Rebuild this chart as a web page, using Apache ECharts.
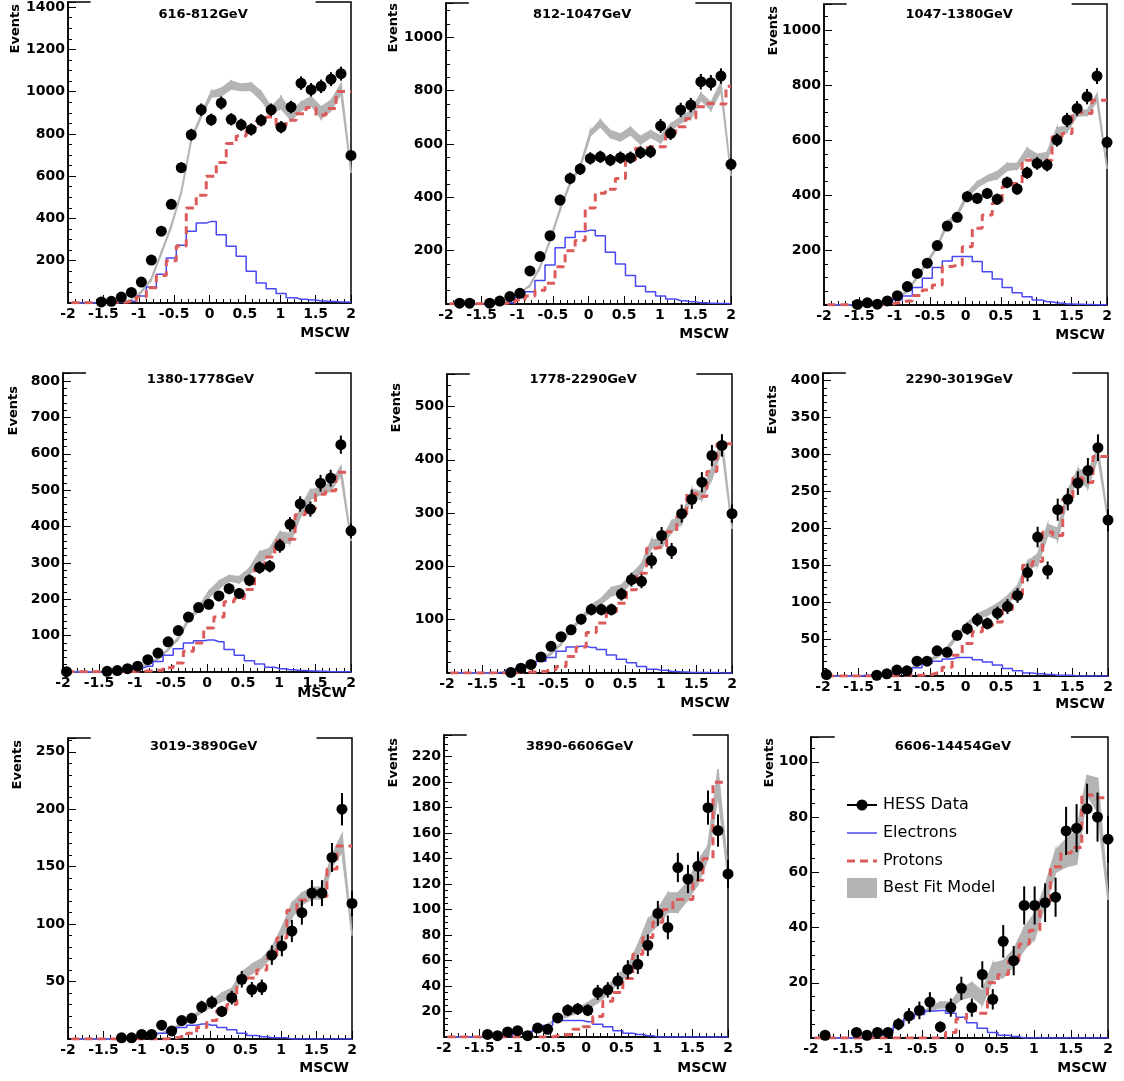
<!DOCTYPE html>
<html><head><meta charset="utf-8">
<script src="https://cdn.jsdelivr.net/npm/echarts@6/dist/echarts.min.js"></script>
<style>html,body{margin:0;padding:0;background:#fff}#c{width:1124px;height:1081px}</style>
</head><body><div id="c"></div>
<script>
// MSCW bin positions
const xs = [-1.951,-1.810,-1.669,-1.528,-1.387,-1.246,-1.104,-0.963,-0.822,-0.681,-0.540,-0.399,-0.258,-0.117,0.025,0.166,0.307,0.448,0.589,0.730,0.871,1.012,1.153,1.294,1.436,1.577,1.718,1.859,2.0];
const titles = ['616-812GeV','812-1047GeV','1047-1380GeV','1380-1778GeV','1778-2290GeV','2290-3019GeV','3019-3890GeV','3890-6606GeV','6606-14454GeV'];
const yMax   = [1424,1129,1095,822,561,410,262,237,109];
const yStep  = [200,200,200,100,100,50,50,20,20];
const yMinor = [4,4,4,5,5,5,5,4,4];
const legendNames = ['HESS Data','Electrons','Protons','Best Fit Model'];

// Panel 1
const data1 = [null,null,null,5,8,28,50,99,203,340,467,640,796,914,867,946,869,843,821,864,914,832,927,1040,1009,1025,1059,1085,698];
const err1  = [0,0,0,2,3,5,7,10,14,18,22,25,28,30,29,31,29,29,29,29,30,29,30,32,32,32,33,33,26];
const ele1  = [1,1,1,2,3,5,8,33,76,136,213,273,339,378,386,323,268,221,150,95,68,45,25,18,14,10,7,5,3];
const pro1  = [1,1,1,1,2,3,8,28,72,130,200,270,450,510,600,665,755,790,830,860,880,840,865,895,925,890,920,1000,1000];
const lo1   = [2,2,2,3,5,8,16,50,110,233,360,518,765,880,975,980,1013,1005,1005,960,895,920,865,910,935,872,911,990,615];
const hi1   = [2,2,2,3,5,8,16,55,117,241,368,528,778,893,1000,1015,1050,1035,1040,1000,927,975,903,950,975,927,958,1037,625];
// Panel 2
const data2 = [null,3,3,null,3,11,28,40,124,178,256,390,471,506,546,552,540,549,549,568,571,668,640,728,746,834,830,855,524];
const err2  = [0,2,2,0,2,3,5,6,11,13,16,20,22,22,23,23,23,23,23,24,24,26,25,27,27,29,29,29,23];
const ele2  = [0,0,0,1,1,2,5,24,46,88,146,211,249,272,277,256,194,150,107,67,46,30,19,12,8,5,3,2,1];
const pro2  = [1,1,1,1,1,2,5,15,30,52,78,140,200,238,360,415,430,471,540,584,590,590,640,665,696,740,752,750,817];
const lo2   = [1,1,1,2,2,4,10,40,68,135,235,350,450,510,630,665,625,612,635,600,625,605,650,680,695,765,728,800,480];
const hi2   = [1,1,1,2,2,4,10,42,72,140,242,358,458,518,648,690,650,637,662,628,650,630,675,700,725,790,755,830,485];
// Panel 3
const data3 = [null,null,null,2,8,3,15,34,67,115,152,216,287,319,394,388,406,385,446,422,481,515,509,600,673,715,758,833,592];
const err3  = [0,0,0,1,3,2,4,6,8,11,12,15,17,18,20,20,20,20,21,21,22,23,23,24,26,27,28,29,24];
const ele3  = [0,0,0,1,1,3,8,18,33,64,97,136,160,176,176,158,121,95,64,45,30,18,12,7,4,3,2,1,1];
const pro3  = [1,1,1,1,1,1,3,8,15,35,55,73,140,145,212,279,327,370,430,442,527,515,527,612,624,700,697,745,745];
const lo3   = [1,1,1,2,2,4,11,26,48,99,152,209,290,322,392,428,450,460,490,495,540,525,530,618,630,688,690,742,495];
const hi3   = [1,1,1,2,2,4,11,28,52,105,160,217,302,334,408,448,470,485,515,515,570,548,555,645,650,712,708,768,500];
// Panel 4
const data4 = [1,null,null,null,2,4,9,16,34,52,83,114,151,177,186,209,229,216,252,287,291,347,406,462,448,519,533,625,388];
const err4  = [1,0,0,0,1,2,3,4,6,7,9,11,12,13,14,14,15,15,16,17,17,19,20,21,21,23,23,25,20];
const ele4  = [0,0,0,0,1,2,6,11,16,29,46,64,80,86,88,83,62,46,31,22,13,9,6,4,3,2,1,1,1];
const pro4  = [1,1,1,1,1,1,1,2,3,5,12,25,57,80,121,151,193,202,227,285,316,360,365,432,448,489,498,549,549];
const lo4   = [1,1,1,1,2,3,7,13,20,35,60,90,140,168,205,230,250,245,268,300,320,355,355,425,475,488,498,540,360];
const hi4   = [1,1,1,1,2,3,7,14,22,38,64,95,148,178,222,250,265,262,285,330,340,385,380,450,500,507,520,565,365];
// Panel 5
const data5 = [null,null,null,null,null,null,1,9,16,30,50,68,81,101,119,119,119,148,175,172,211,258,229,299,326,358,408,427,299];
const err5  = [0,0,0,0,0,0,1,3,4,5,7,8,9,10,11,11,11,12,13,13,15,16,15,17,18,19,20,21,17];
const ele5  = [0,0,0,0,0,1,5,10,14,22,29,41,49,50,48,44,34,26,19,12,7,5,3,2,1,1,1,0,0];
const pro5  = [0,0,0,0,0,0,0,1,2,3,6,12,31,49,76,94,115,131,156,187,234,237,265,293,337,331,378,430,430];
const lo5   = [0,0,0,0,0,1,5,11,16,25,35,53,80,99,118,130,145,150,170,190,235,235,265,280,330,325,365,420,270];
const hi5   = [0,0,0,0,0,1,5,12,17,27,38,56,84,104,128,140,160,165,185,205,250,250,285,295,345,340,385,440,275];
// Panel 6
const data6 = [2,null,null,null,null,1,3,8,7,20,20,34,32,55,64,76,71,85,94,109,140,188,143,225,239,261,278,309,211];
const err6  = [1,0,0,0,0,1,2,3,3,4,4,6,6,7,8,9,8,9,10,10,12,14,12,15,15,16,17,18,15];
const ele6  = [0,0,0,0,1,1,2,4,7,11,17,20,23,25,25,22,19,15,10,7,4,3,2,1,1,0,0,0,0];
const pro6  = [0,0,0,0,0,0,0,0,1,1,2,4,12,28,44,60,68,73,90,110,150,155,195,190,240,268,262,297,297];
const lo6   = [0,0,0,0,1,1,2,5,8,13,19,25,35,52,68,78,82,90,98,112,145,150,190,185,240,265,255,295,210];
const hi6   = [0,0,0,0,1,1,2,5,9,14,21,28,39,57,72,84,90,98,108,122,155,165,205,200,250,280,275,310,212];
// Panel 7
const data7 = [null,null,null,null,null,1,1,4,4,12,7,16,18,28,32,24,36,52,43,45,73,81,94,110,127,127,158,200,118];
const err7  = [0,0,0,0,0,1,1,2,2,3.5,2.6,4,4.2,5.3,5.7,4.9,6,7.2,6.6,6.7,8.5,9,9.7,10.5,11.3,11.3,12.6,14.1,10.9];
const ele7  = [0,0,0,0,0,0,1,2,3,5,8,10,12,13,12,10,8,5,3,2,1,1,0,0,0,0,0,0,0];
const pro7  = [0,0,0,0,0,0,0,0,0,0,1,2,5,10,16,25,30,50,53,60,70,88,112,121,124,124,148,168,168];
const lo7   = [0,0,0,0,0,0,1,2,3,5,9,12,17,23,28,33,36,52,57,62,72,88,106,117,122,122,150,163,90];
const hi7   = [0,0,0,0,0,0,1,2,3,5,10,13,19,27,33,40,44,58,65,70,80,97,118,127,132,132,160,178,92];
// Panel 8
const data8 = [null,null,null,null,2,1,4,5,1,7,6,15,21,22,21,35,37,44,53,57,72,97,86,133,124,134,180,162,128];
const err8  = [0,0,0,0,1.4,1,2,2.2,1,2.6,2.4,3.9,4.6,4.7,4.6,5.9,6.1,6.6,7.3,7.5,8.5,9.8,9.3,11.5,11.1,11.6,13.4,12.7,11.3];
const ele8  = [0,0,0,0,0,1,1,3,4,6,9,13,13,13,12,10,8,5,3,2,1,0,0,0,0,0,0,0,0];
const pro8  = [0,0,0,0,0,0,0,0,0,0,0,1,2,6,8,16,28,35,46,65,78,90,100,108,108,123,140,200,200];
const lo8   = [0,0,0,0,0,1,1,3,4,6,9,14,16,19,22,27,34,42,49,64,80,88,98,98,108,120,140,190,125];
const hi8   = [0,0,0,0,0,1,1,3,4,6,10,15,18,22,27,32,40,48,56,72,92,100,113,113,122,138,150,210,130];
// Panel 9
const data9 = [null,1,null,null,2,1,2,2,5,8,10,13,4,11,18,11,23,14,35,28,48,48,49,51,75,76,83,80,72];
const err9  = [0,1,0,0,1.4,1,1.4,1.4,2.2,2.8,3.2,3.6,2,3.3,4.2,3.3,4.8,3.7,5.9,5.3,6.9,6.9,7,7.1,8.7,8.7,9.1,8.9,8.5];
const ele9  = [0,0,0,0,0,0.5,1,2.5,4.5,7,8.5,9.8,10,9,7.5,5.5,3.5,2,1,0.5,0,0,0,0,0,0,0,0,0];
const pro9  = [0,0,0,0,0,0,0,0,0,0,0,0,0,2,7,10,9,20,23,28,34,39,49,62,67,69,88,87,87];
const lo9   = [0,0,0,0,0,0.5,1,2.5,4.5,7,8.5,10,11,11,14,15,12,21,22,26,32,36,48,60,62,63,88,82,50];
const hi9   = [0,0,0,0,0,0.5,1,2.5,4.5,7,9,11,13,13,18,20,17,27,28,32,40,45,55,68,72,75,95,94,52];

const panels = [
  {d:data1,e:err1,el:ele1,p:pro1,lo:lo1,hi:hi1},
  {d:data2,e:err2,el:ele2,p:pro2,lo:lo2,hi:hi2},
  {d:data3,e:err3,el:ele3,p:pro3,lo:lo3,hi:hi3},
  {d:data4,e:err4,el:ele4,p:pro4,lo:lo4,hi:hi4},
  {d:data5,e:err5,el:ele5,p:pro5,lo:lo5,hi:hi5},
  {d:data6,e:err6,el:ele6,p:pro6,lo:lo6,hi:hi6},
  {d:data7,e:err7,el:ele7,p:pro7,lo:lo7,hi:hi7},
  {d:data8,e:err8,el:ele8,p:pro8,lo:lo8,hi:hi8},
  {d:data9,e:err9,el:ele9,p:pro9,lo:lo9,hi:hi9}
];

// layout: [left, top, width, height, eventsX, eventsY, mscwRight, mscwY, titleY]
const layout = [
  [68,2,283,301, 16,4, 350,333, 15],
  [446,3,285,301, 394,3, 729,334, 15],
  [824,4,283,301, 774,6, 1105,335, 15],
  [63,373,288,299, 14,386, 347,693, 380],
  [447,374,285,299, 397,383, 730,703, 380],
  [823,373,285,303, 773,385, 1105,704, 380],
  [68,738,284,301, 18,740, 349,1068, 747],
  [444,735,284,302, 394,738, 727,1068, 747],
  [811,737,297,301, 770,738, 1107,1068, 747]
];

const FONT = 'DejaVu Sans';
const GRAY = '#b4b4b4';
const BLUE = '#4848f2';
const RED = '#dc5a5a';

function bandItem(params, api) {
  const a = api.coord([api.value(0), api.value(1)]);
  const b = api.coord([api.value(3), api.value(4)]);
  const c = api.coord([api.value(3), api.value(5)]);
  const d = api.coord([api.value(0), api.value(2)]);
  return { type: 'polygon', shape: { points: [a, b, c, d] },
    style: { fill: GRAY, stroke: GRAY, lineWidth: 1.6 } };
}
function errItem(params, api) {
  const x = api.value(0), y = api.value(1), e = api.value(2);
  const a = api.coord([x, y - e]), b = api.coord([x, y + e]);
  return { type: 'line', shape: { x1: a[0], y1: a[1], x2: b[0], y2: b[1] },
    style: { stroke: '#000', lineWidth: 2 } };
}

const tickRich = { t: { color: '#000', fontFamily: FONT, fontWeight: 'bold', fontSize: 14 } };
const grids = [], xAxes = [], yAxes = [], series = [], graphics = [];
panels.forEach((P, i) => {
  const L = layout[i];
  grids.push({ left: L[0], top: L[1], width: L[2], height: L[3], show: true,
    borderColor: '#000', borderWidth: 1.5, backgroundColor: 'transparent' });
  xAxes.push({ type: 'value', gridIndex: i, min: -2, max: 2, interval: 0.5,
    axisLine: { onZero: false, lineStyle: { color: '#000', width: 1.5 } },
    axisTick: { inside: true, length: 8, lineStyle: { color: '#000', width: 1 } },
    minorTick: { show: true, splitNumber: 5, length: 4, lineStyle: { color: '#000', width: 1 } },
    splitLine: { show: false }, minorSplitLine: { show: false },
    axisLabel: { margin: 4, color: '#000', fontFamily: FONT, fontWeight: 'bold', fontSize: 14,
      formatter: v => '{t|' + v + '}', rich: tickRich } });
  yAxes.push({ type: 'value', gridIndex: i, min: 0, max: yMax[i], interval: yStep[i],
    axisLine: { onZero: false, lineStyle: { color: '#000', width: 1.5 } },
    axisTick: { inside: true, length: 8, lineStyle: { color: '#000', width: 1 } },
    minorTick: { show: true, splitNumber: yMinor[i], length: 4, lineStyle: { color: '#000', width: 1 } },
    splitLine: { show: false }, minorSplitLine: { show: false },
    axisLabel: { margin: 3, showMaxLabel: false, color: '#000', fontFamily: FONT, fontWeight: 'bold', fontSize: 14,
      formatter: v => (v === 0 ? '' : '{t|' + v + '}'), rich: tickRich } });

  const band = [];
  for (let k = 0; k < xs.length - 1; k++) {
    band.push([xs[k], P.lo[k], P.hi[k], xs[k + 1], P.lo[k + 1], P.hi[k + 1]]);
  }
  series.push({ type: 'custom', name: 'Best Fit Model', xAxisIndex: i, yAxisIndex: i, z: 1,
    renderItem: bandItem, data: band, encode: { x: [0, 3], y: [1, 2, 4, 5] }, silent: true });
  series.push({ type: 'line', name: 'Electrons', xAxisIndex: i, yAxisIndex: i, z: 2, step: 'middle',
    symbol: 'none', lineStyle: { color: BLUE, width: 1.5 }, itemStyle: { color: BLUE },
    data: xs.map((x, k) => [x, P.el[k]]) });
  series.push({ type: 'line', name: 'Protons', xAxisIndex: i, yAxisIndex: i, z: 3, step: 'middle',
    symbol: 'none', lineStyle: { color: RED, width: 3, type: [8, 5] }, itemStyle: { color: RED },
    data: xs.map((x, k) => [x, P.p[k]]) });
  const pts = [], errs = [];
  xs.forEach((x, k) => {
    if (P.d[k] !== null) { pts.push([x, P.d[k]]); if (P.e[k] > 0) errs.push([x, P.d[k], P.e[k]]); }
  });
  series.push({ type: 'custom', name: 'HESS Data', xAxisIndex: i, yAxisIndex: i, z: 4,
    renderItem: errItem, data: errs, encode: { x: 0, y: 1 }, silent: true });
  series.push({ type: 'scatter', name: 'HESS Data', xAxisIndex: i, yAxisIndex: i, z: 5,
    symbol: 'circle', symbolSize: 11, itemStyle: { color: '#000', opacity: 1 }, data: pts });

  // title box covering the top frame
  const bx = L[0] + 0.08 * L[2], bw = 0.795 * L[2];
  graphics.push({ type: 'rect', z: 100, shape: { x: bx, y: L[1] - 3, width: bw, height: 6 },
    style: { fill: '#fff' } });
  graphics.push({ type: 'text', z: 101, x: bx + bw / 2, y: L[8],
    style: { text: titles[i], fill: '#000', fontFamily: FONT, fontWeight: 'bold', fontSize: 13,
      align: 'center', verticalAlign: 'middle' } });
  graphics.push({ type: 'text', z: 101, x: L[4], y: L[5], rotation: Math.PI / 2,
    style: { text: 'Events', fill: '#000', fontFamily: FONT, fontWeight: 'bold', fontSize: 13,
      align: 'right', verticalAlign: 'middle' } });
  graphics.push({ type: 'text', z: 101, x: L[6], y: L[7],
    style: { text: 'MSCW', fill: '#000', fontFamily: FONT, fontWeight: 'bold', fontSize: 14,
      align: 'right', verticalAlign: 'middle' } });
});

// legend inside the last panel
const lgX = 847, lgW = 30, lgT = 883, lgY = [805, 833, 861, 888];
const lgStyle = { fill: '#000', fontFamily: FONT, fontSize: 16, align: 'left', verticalAlign: 'middle' };
graphics.push({ type: 'line', z: 101, shape: { x1: lgX, y1: lgY[0], x2: lgX + lgW, y2: lgY[0] }, style: { stroke: '#000', lineWidth: 2 } });
graphics.push({ type: 'circle', z: 102, shape: { cx: lgX + lgW / 2, cy: lgY[0], r: 5.5 }, style: { fill: '#000' } });
graphics.push({ type: 'line', z: 101, shape: { x1: lgX, y1: lgY[1], x2: lgX + lgW, y2: lgY[1] }, style: { stroke: BLUE, lineWidth: 1.5 } });
graphics.push({ type: 'line', z: 101, shape: { x1: lgX, y1: lgY[2], x2: lgX + lgW, y2: lgY[2] }, style: { stroke: RED, lineWidth: 3, lineDash: [8, 5] } });
graphics.push({ type: 'rect', z: 101, shape: { x: lgX, y: lgY[3] - 10, width: lgW, height: 20 }, style: { fill: GRAY } });
legendNames.forEach((n, j) => {
  graphics.push({ type: 'text', z: 101, x: lgT, y: lgY[j], style: Object.assign({ text: n }, lgStyle) });
});

const chart = echarts.init(document.getElementById('c'), null, { renderer: 'canvas' });
chart.setOption({
  animation: false,
  backgroundColor: '#fff',
  textStyle: { fontFamily: FONT },
  grid: grids, xAxis: xAxes, yAxis: yAxes, series: series,
  graphic: { elements: graphics }
});
</script>
</body></html>
